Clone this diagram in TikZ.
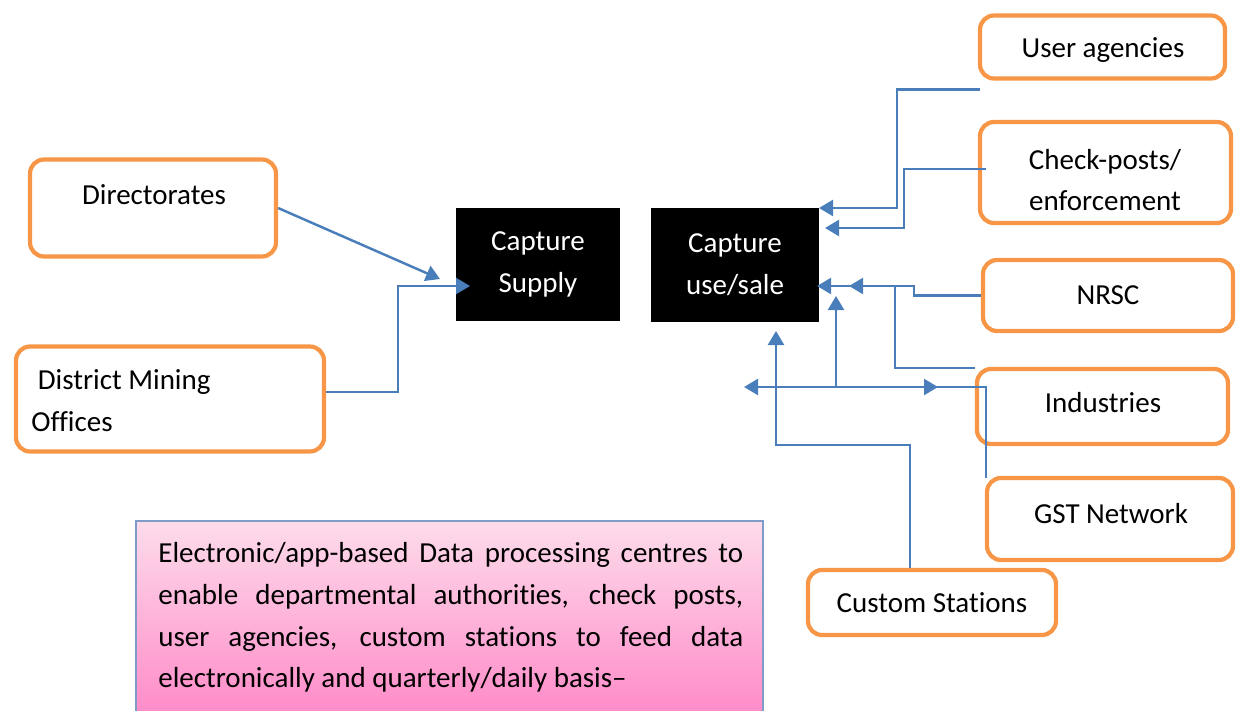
\documentclass[tikz,border=0pt]{standalone}
\usepackage{fontspec}
\setmainfont{Carlito}[Ligatures=NoCommon, HyphenChar=None]
\usetikzlibrary{arrows.meta,calc}

\definecolor{boxorange}{HTML}{F79646}
\definecolor{linkblue}{HTML}{4A7EBB}
\definecolor{notepinktop}{HTML}{FDDCEB}
\definecolor{notepinkbot}{HTML}{FF8AC8}
\definecolor{noteedge}{HTML}{7F9CC8}

\begin{document}
\begin{tikzpicture}[
  x=0.02cm, y=-0.02cm,
  every node/.style={font=\fontsize{16.5}{23.8}\selectfont},
  obox/.style={draw=boxorange, line width=2.4pt, rounded corners=0.28cm, align=center},
  cbox/.style={fill=black, text=white, align=center},
  conn/.style={draw=linkblue, line width=1.4pt, -{Triangle[length=0.28cm,width=0.32cm]}},
]
\useasboundingbox (0,0) rectangle (1237,710);

% source boxes on the left
\node [obox, minimum width=4.92cm, minimum height=1.94cm] (dir) at (153,208) {};
\node (dirtxt) at (154,195) {Directorates};
\node [obox, minimum width=6.16cm, minimum height=2.1cm] (dmo) at (170,399) {};
\node [anchor=west, align=left, inner sep=0pt] (dmotxt) at (31,401) {\ District Mining\\Offices};

% capture boxes
\node [cbox, minimum width=3.28cm, minimum height=2.26cm] (sup) at (538,264.5) {Capture\\Supply};
\node [cbox, minimum width=3.36cm, minimum height=2.28cm] (use) at (735,265) {Capture\\use/sale};

% feeders on the right
\node [obox, minimum width=4.9cm, minimum height=1.26cm] (usr) at (1102.5,47) {};
\node (usrtxt) at (1103,50) {User agencies};
\node [obox, minimum width=5.02cm, minimum height=2.02cm] (chk) at (1105.5,172.5) {};
\node [align=center] (chktxt) at (1105,180) {Check-posts/\\enforcement};
\node [obox, minimum width=5cm, minimum height=1.42cm] (nrsc) at (1108,295.5) {NRSC};
\node [obox, minimum width=5.02cm, minimum height=1.5cm] (ind) at (1102.5,406.5) {};
\node (indtxt) at (1103,403) {Industries};
\node [obox, minimum width=4.92cm, minimum height=1.64cm] (gst) at (1110,519) {};
\node (gsttxt) at (1111,514) {GST Network};
\node [obox, minimum width=4.96cm, minimum height=1.3cm] (cus) at (932,602.5) {Custom Stations};

% note
\node [draw=noteedge, line width=0.8pt, top color=notepinktop, bottom color=notepinkbot,
  minimum width=12.54cm, minimum height=3.9cm] (note) at (449.5,618.5) {};
\node [anchor=north west, text width=11.7cm, align=justify, inner sep=0pt] (notetxt) at (158,542)
  {Electronic/app-based Data processing centres to enable departmental authorities, check posts, user agencies, custom stations to feed data electronically and quarterly/daily basis--};

% free ends
\coordinate (dirend) at (440,279);
\coordinate (supin) at (470,286);
\coordinate (usein1) at (819,208);
\coordinate (usein2) at (825,228);
\coordinate (usein3) at (849,286);
\coordinate (usein4) at (817,286);
\coordinate (usein5) at (776,331);
\coordinate (gstj) at (836,387);
\coordinate (gstleft) at (744,387);

\draw [conn] (dir.east) -- (dirend);
\draw [conn] (dmo.east) ++(0,-7) -- ++(72,0) |- (supin);

\draw [conn] ($(usr.south west)+(2,9)$) -- ++(-83,0) |- (usein1);
\draw [conn] ($(chk.west)+(8,-3.5)$) -- ++(-82,0) |- (usein2);
\draw [conn] (nrsc.west) -- ++(-67,0) |- (usein3);
\draw [conn] ($(ind.north west)+(0,1)$) -- ++(-80,0) |- (usein4);
\draw [conn] ($(gst.north west)+(1,2)$) |- (gstleft);
\draw [conn] (gstj) -- (836,296);
\draw [conn] (gstj) -- (938,387);
\draw [conn] ($(cus.north)+(-22,0)$) -- ++(0,-123) -| (usein5);

\end{tikzpicture}
\end{document}
